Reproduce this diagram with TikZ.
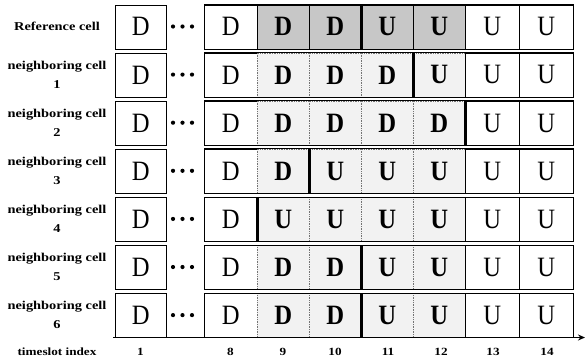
\documentclass[tikz,border=0pt]{standalone}
\usepackage{fontspec}
\setmainfont{Liberation Serif}
\newfontfamily\labfont[FakeStretch=1.2]{Liberation Serif}
\newfontfamily\cellfont[FakeStretch=0.88]{Liberation Serif}
\usetikzlibrary{arrows.meta}
\definecolor{refgray}{gray}{0.78}
\definecolor{nbgray}{gray}{0.95}
\definecolor{nbline}{gray}{0.45}
\tikzset{
  cell/.style={draw=black, line width=0.7pt, rectangle, anchor=north west, inner sep=0pt,
    minimum height=44pt, font=\cellfont\fontsize{28}{28}\selectfont},
  midref/.style={cell, fill=refgray, font=\cellfont\bfseries\fontsize{28}{28}\selectfont},
  midnb/.style={cell, fill=nbgray, draw=nbline, densely dotted, font=\cellfont\bfseries\fontsize{28}{28}\selectfont},
  rowlab/.style={align=center, font=\labfont\bfseries\fontsize{12}{19}\selectfont, inner sep=0pt},
  idx/.style={font=\labfont\bfseries\fontsize{11}{11}\selectfont, inner sep=0pt},
  switchline/.style={line width=3pt},
  outline/.style={draw=black, line width=0.8pt},
  axis/.style={line width=1.2pt, -{Stealth[length=7pt,width=6pt]}},
}
\begin{document}
\begin{tikzpicture}[x=1pt,y=-1pt]
\useasboundingbox (0,0) rectangle (585,362);
\foreach \r/\sty/\lab/\a/\b/\c/\d/\k in {
  0/midref/{Reference cell}/D/D/U/U/11,
  1/midnb/{neighboring cell\\1}/D/D/D/U/12,
  2/midnb/{neighboring cell\\2}/D/D/D/D/13,
  3/midnb/{neighboring cell\\3}/D/U/U/U/10,
  4/midnb/{neighboring cell\\4}/U/U/U/U/9,
  5/midnb/{neighboring cell\\5}/D/D/U/U/11,
  6/midnb/{neighboring cell\\6}/D/D/U/U/11}{
  \pgfmathsetmacro{\y}{4.5+48.1*\r}
  \pgfmathsetmacro{\yc}{\y+22}
  \node[rowlab] (lab-\r) at (57,\yc) {\lab};
  \node[cell, minimum width=51pt] (b1-\r) at (115,\y) {D};
  \fill (173,\yc) circle (2.1pt) (182.5,\yc) circle (2.1pt) (192,\yc) circle (2.1pt);
  \node[cell, minimum width=53pt] (b8-\r) at (204,\y) {D};
  \node[\sty, minimum width=52pt] (b9-\r) at (257,\y) {\a};
  \node[\sty, minimum width=52pt] (b10-\r) at (309,\y) {\b};
  \node[\sty, minimum width=52pt] (b11-\r) at (361,\y) {\c};
  \node[\sty, minimum width=52pt] (b12-\r) at (413,\y) {\d};
  \node[cell, minimum width=54pt] (b13-\r) at (465,\y) {U};
  \node[cell, minimum width=54pt] (b14-\r) at (519,\y) {U};
  \draw[outline] (b8-\r.north west) rectangle (b14-\r.south east);
  \draw[switchline] (b\k-\r.north west) -- (b\k-\r.south west);
}
\coordinate (ax0) at (113,337.5);
\coordinate (ax1) at (585,337.5);
\draw[axis] (ax0) -- (ax1);
\node[idx] (ts) at (57,352) {timeslot index};
\foreach \n/\x in {1/140.5,8/230.5,9/283,10/335,11/388,12/441,13/493,14/547}{
  \node[idx] (t\n) at (\x,352) {\n};
}
\end{tikzpicture}
\end{document}
